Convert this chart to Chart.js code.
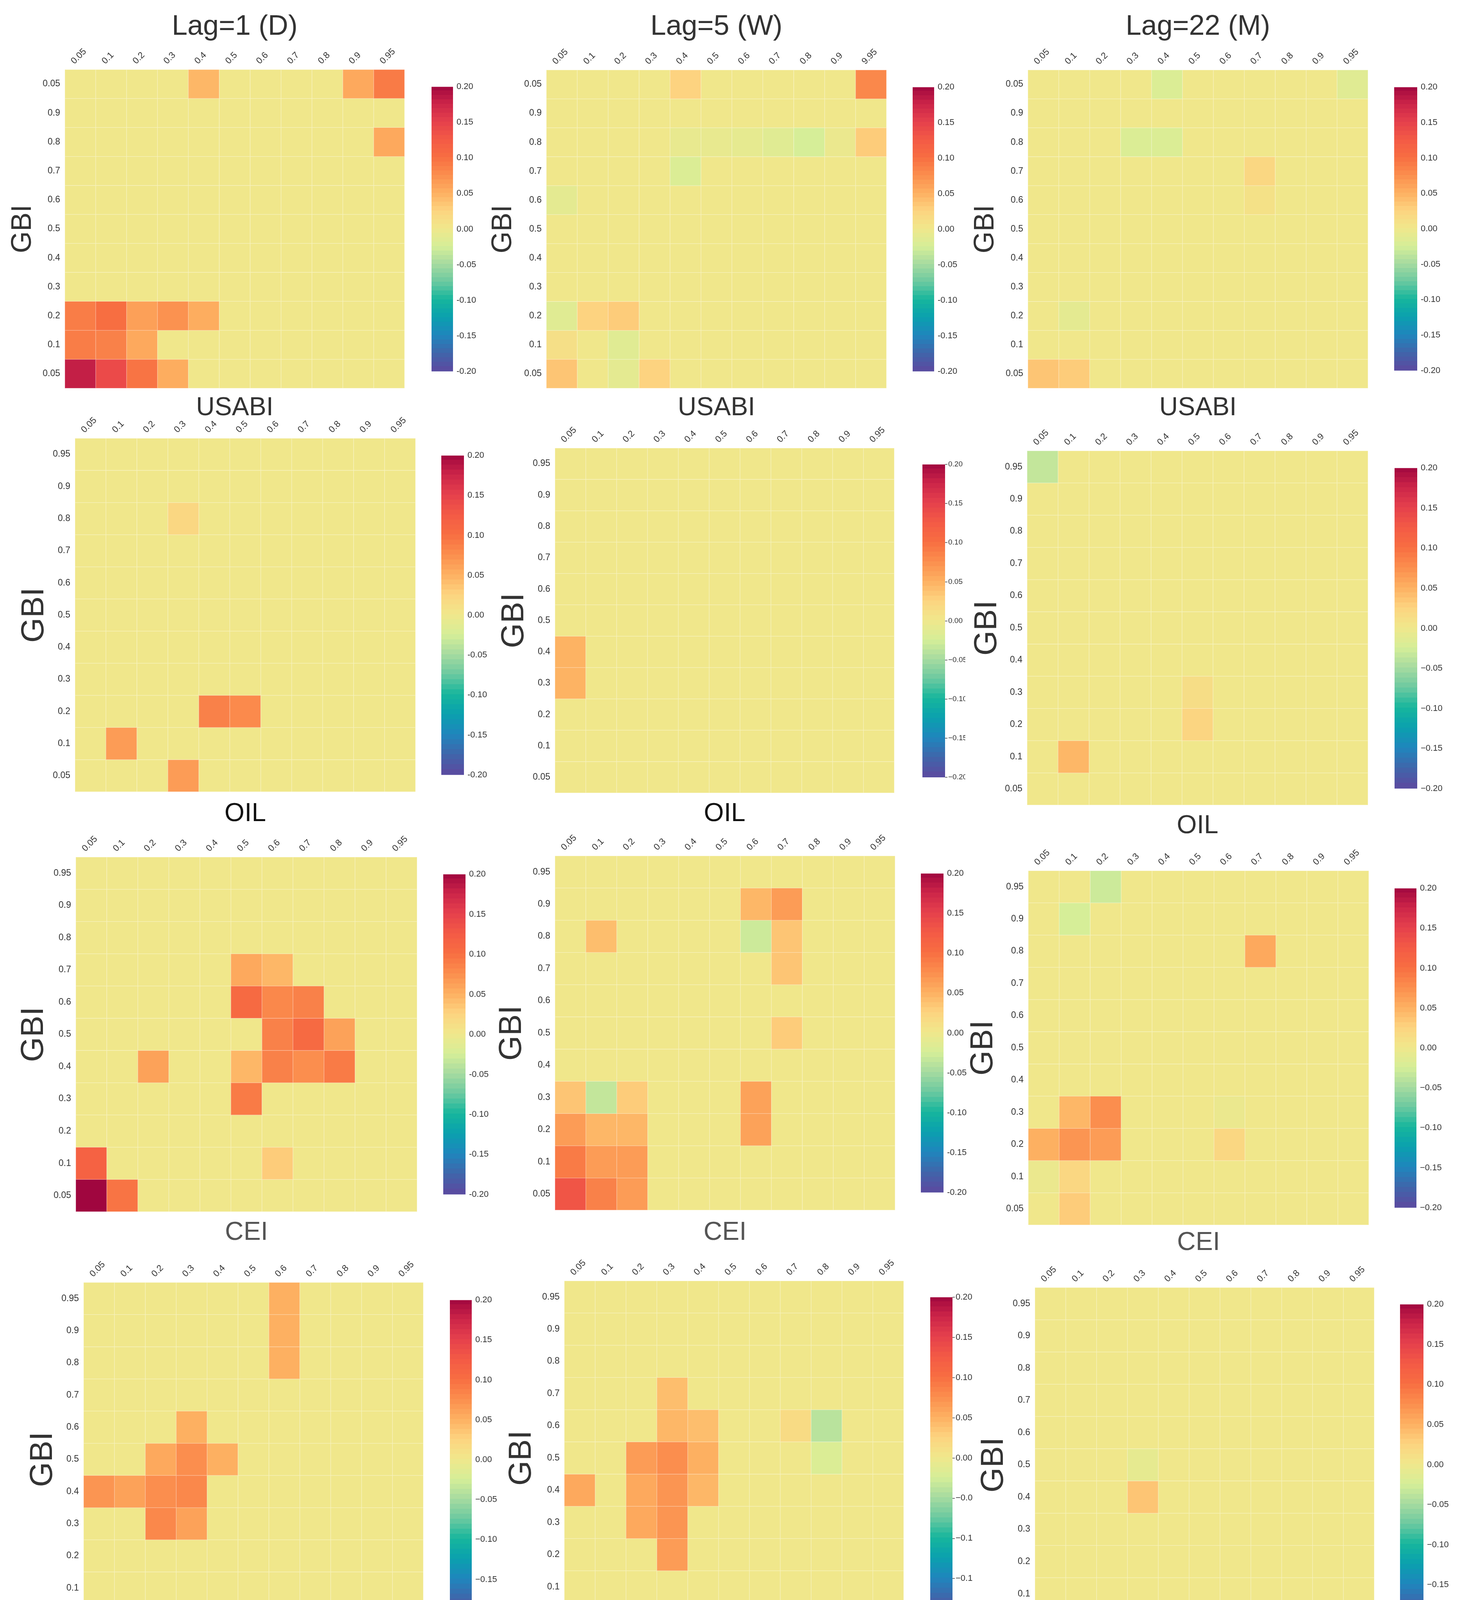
<!DOCTYPE html>
<html><head><meta charset="utf-8">
<script src="https://cdn.jsdelivr.net/npm/chart.js@4.4.1/dist/chart.umd.min.js"></script>
<style>
html,body{margin:0;padding:0;background:#fff;}
body{width:3736px;height:4311px;position:relative;overflow:hidden;}
canvas{position:absolute;}
.clip{position:absolute;overflow:hidden;}
</style></head><body>
<script>
// ---------- labels ----------
const quantLabels = ['0.05','0.1','0.2','0.3','0.4','0.5','0.6','0.7','0.8','0.9','0.95'];
const quantLabelsLag5 = ['0.05','0.1','0.2','0.3','0.4','0.5','0.6','0.7','0.8','0.9','9.95'];
const gbiLabelsTop = ['0.05','0.9','0.8','0.7','0.6','0.5','0.4','0.3','0.2','0.1','0.05'];
const gbiLabels = ['0.95','0.9','0.8','0.7','0.6','0.5','0.4','0.3','0.2','0.1','0.05'];
const lagTitles = ['Lag=1 (D)','Lag=5 (W)','Lag=22 (M)'];
const factorNames = ['USABI','OIL','CEI','SPI'];
const yAxisName = 'GBI';
const cbarTicks = [-0.2,-0.15,-0.1,-0.05,0,0.05,0.1,0.15,0.2];

// ---------- values (rows top -> bottom, columns left -> right) ----------
const lag1USABI = [
 [0,0,0,0,0.045,0,0,0,0,0.055,0.09],
 [0,0,0,0,0,0,0,0,0,0,0],
 [0,0,0,0,0,0,0,0,0,0,0.055],
 [0,0,0,0,0,0,0,0,0,0,0],
 [0,0,0,0,0,0,0,0,0,0,0],
 [0,0,0,0,0,0,0,0,0,0,0],
 [0,0,0,0,0,0,0,0,0,0,0],
 [0,0,0,0,0,0,0,0,0,0,0],
 [0.088,0.10,0.062,0.072,0.052,0,0,0,0,0,0],
 [0.088,0.085,0.055,0,0,0,0,0,0,0,0],
 [0.18,0.14,0.095,0.052,0,0,0,0,0,0,0]];
const lag5USABI = [
 [0,0,0,0,0.025,0,0,0,0,0,0.08],
 [0,0,0,0,0,0,0,0,0,0,0],
 [0,0,0,0,-0.008,-0.008,-0.01,-0.015,-0.025,-0.005,0.03],
 [0,0,0,0,-0.02,0,0,0,0,0,0],
 [-0.012,0,0,0,0,0,0,0,0,0,0],
 [0,0,0,0,0,0,0,0,0,0,0],
 [0,0,0,0,0,0,0,0,0,0,0],
 [0,0,0,0,0,0,0,0,0,0,0],
 [-0.015,0.025,0.03,0,0,0,0,0,0,0,0],
 [0.01,0,-0.015,0,0,0,0,0,0,0,0],
 [0.035,0,-0.012,0.025,0,0,0,0,0,0,0]];
const lag22USABI = [
 [0,0,0,0,-0.02,0,0,0,0,0,-0.015],
 [0,0,0,0,0,0,0,0,0,0,0],
 [0,0,0,-0.02,-0.02,0,0,0,0,0,0],
 [0,0,0,0,0,0,0,0.02,0,0,0],
 [0,0,0,0,0,0,0,0.008,0,0,0],
 [0,0,0,0,0,0,0,0,0,0,0],
 [0,0,0,0,0,0,0,0,0,0,0],
 [0,0,0,0,0,0,0,0,0,0,0],
 [0,-0.012,0,0,0,0,0,0,0,0,0],
 [0,0,0,0,0,0,0,0,0,0,0],
 [0.035,0.03,0,0,0,0,0,0,0,0,0]];
const lag1OIL = [
 [0,0,0,0,0,0,0,0,0,0,0],
 [0,0,0,0,0,0,0,0,0,0,0],
 [0,0,0,0.02,0,0,0,0,0,0,0],
 [0,0,0,0,0,0,0,0,0,0,0],
 [0,0,0,0,0,0,0,0,0,0,0],
 [0,0,0,0,0,0,0,0,0,0,0],
 [0,0,0,0,0,0,0,0,0,0,0],
 [0,0,0,0,0,0,0,0,0,0,0],
 [0,0,0,0,0.085,0.078,0,0,0,0,0],
 [0,0.065,0,0,0,0,0,0,0,0,0],
 [0,0,0,0.065,0,0,0,0,0,0,0]];
const lag5OIL = [
 [0,0,0,0,0,0,0,0,0,0,0],
 [0,0,0,0,0,0,0,0,0,0,0],
 [0,0,0,0,0,0,0,0,0,0,0],
 [0,0,0,0,0,0,0,0,0,0,0],
 [0,0,0,0,0,0,0,0,0,0,0],
 [0,0,0,0,0,0,0,0,0,0,0],
 [0.048,0,0,0,0,0,0,0,0,0,0],
 [0.048,0,0,0,0,0,0,0,0,0,0],
 [0,0,0,0,0,0,0,0,0,0,0],
 [0,0,0,0,0,0,0,0,0,0,0],
 [0,0,0,0,0,0,0,0,0,0,0]];
const lag22OIL = [
 [-0.035,0,0,0,0,0,0,0,0,0,0],
 [0,0,0,0,0,0,0,0,0,0,0],
 [0,0,0,0,0,0,0,0,0,0,0],
 [0,0,0,0,0,0,0,0,0,0,0],
 [0,0,0,0,0,0,0,0,0,0,0],
 [0,0,0,0,0,0,0,0,0,0,0],
 [0,0,0,0,0,0,0,0,0,0,0],
 [0,0,0,0,0,0.012,0,0,0,0,0],
 [0,0,0,0,0,0.022,0,0,0,0,0],
 [0,0.045,0,0,0,0,0,0,0,0,0],
 [0,0,0,0,0,0,0,0,0,0,0]];
const lag1CEI = [
 [0,0,0,0,0,0,0,0,0,0,0],
 [0,0,0,0,0,0,0,0,0,0,0],
 [0,0,0,0,0,0,0,0,0,0,0],
 [0,0,0,0,0,0.055,0.045,0,0,0,0],
 [0,0,0,0,0,0.105,0.08,0.085,0,0,0],
 [0,0,0,0,0,0,0.085,0.105,0.06,0,0],
 [0,0,0.06,0,0,0.045,0.085,0.075,0.09,0,0],
 [0,0,0,0,0,0.09,0,0,0,0,0],
 [0,0,0,0,0,0,0,0,0,0,0],
 [0.115,0,0,0,0,0,0.03,0,0,0,0],
 [0.2,0.095,0,0,0,0,0,0,0,0,0]];
const lag5CEI = [
 [0,0,0,0,0,0,0,0,0,0,0],
 [0,0,0,0,0,0,0.045,0.065,0,0,0],
 [0,0.04,0,0,0,0,-0.03,0.035,0,0,0],
 [0,0,0,0,0,0,0,0.035,0,0,0],
 [0,0,0,0,0,0,0,0,0,0,0],
 [0,0,0,0,0,0,0,0.03,0,0,0],
 [0,0,0,0,0,0,0,0,0,0,0],
 [0.035,-0.035,0.03,0,0,0,0.06,0,0,0,0],
 [0.065,0.045,0.045,0,0,0,0.06,0,0,0,0],
 [0.09,0.065,0.065,0,0,0,0,0,0,0,0],
 [0.13,0.085,0.065,0,0,0,0,0,0,0,0]];
const lag22CEI = [
 [0,0,-0.03,0,0,0,0,0,0,0,0],
 [0,-0.025,0,0,0,0,0,0,0,0,0],
 [0,0,0,0,0,0,0,0.055,0,0,0],
 [0,0,0,0,0,0,0,0,0,0,0],
 [0,0,0,0,0,0,0,0,0,0,0],
 [0,0,0,0,0,0,0,0,0,0,0],
 [0,0,0,0,0,0,0,0,0,0,0],
 [0,0.045,0.075,0,0,0,-0.005,0,0,0,0],
 [0.05,0.07,0.065,0,0,0,0.02,0,0,0,0],
 [-0.005,0.02,0,0,0,0,0,0,0,0,0],
 [0,0.03,0,0,0,0,0,0,0,0,0]];
const lag1SPI = [
 [0,0,0,0,0,0,0.05,0,0,0,0],
 [0,0,0,0,0,0,0.05,0,0,0,0],
 [0,0,0,0,0,0,0.05,0,0,0,0],
 [0,0,0,0,0,0,0,0,0,0,0],
 [0,0,0,0.05,0,0,0,0,0,0,0],
 [0,0,0.055,0.075,0.05,0,0,0,0,0,0],
 [0.07,0.06,0.075,0.08,0,0,0,0,0,0,0],
 [0,0,0.08,0.06,0,0,0,0,0,0,0],
 [0,0,0,0,0,0,0,0,0,0,0],
 [0,0,0,0,0,0,0,0,0,0,0],
 [0,0,0,0.045,0,0,0,0,0,0,0]];
const lag5SPI = [
 [0,0,0,0,0,0,0,0,0,0,0],
 [0,0,0,0,0,0,0,0,0,0,0],
 [0,0,0,0,0,0,0,0,0,0,0],
 [0,0,0,0.04,0,0,0,0,0,0,0],
 [0,0,0,0.045,0.04,0,0,0.015,-0.04,0,0],
 [0,0,0.065,0.075,0.05,0,0,0,-0.02,0,0],
 [0.055,0,0.055,0.07,0.045,0,0,0,0,0,0],
 [0,0,0.055,0.07,0,0,0,0,0,0,0],
 [0,0,0,0.065,0,0,0,0,0,0,0],
 [0,0,0,0,0,0,0,0,0,0,0],
 [0,0,0,0,0,0,0,0,0,0,0]];
const lag22SPI = [
 [0,0,0,0,0,0,0,0,0,0,0],
 [0,0,0,0,0,0,0,0,0,0,0],
 [0,0,0,0,0,0,0,0,0,0,0],
 [0,0,0,0,0,0,0,0,0,0,0],
 [0,0,0,0,0,0,0,0,0,0,0],
 [0,0,0,-0.01,0,0,0,0,0,0,0],
 [0,0,0,0.035,0,0,0,0,0,0,0],
 [0,0,0,0,0,0,0,0,0,0,0],
 [0,0,0,0,0,0,0,0,0,0,0],
 [0,0,0,0,0,0,0,0,0,0,0],
 [0,0,0,0,0,0,0,0,0,0,0]];

// ---------- colour map (Spectral_r, -0.2 .. 0.2) ----------
const cmapStops = [
 [-0.20,'#5b4a9f'],[-0.175,'#3f66ab'],[-0.15,'#1f86bd'],[-0.125,'#0aa0ae'],
 [-0.10,'#16b69d'],[-0.075,'#6cc9a0'],[-0.05,'#a6dba0'],[-0.025,'#d6ee98'],
 [0.00,'#f0e78b'],[0.025,'#fdd380'],[0.05,'#fdb061'],[0.075,'#fb8e4e'],
 [0.10,'#f76e41'],[0.125,'#f35a45'],[0.15,'#e5404c'],[0.175,'#cc2548'],[0.20,'#a0063f']];
function hex2rgb(h){return [parseInt(h.slice(1,3),16),parseInt(h.slice(3,5),16),parseInt(h.slice(5,7),16)];}
function cmapRGB(v){
  v=Math.max(-0.2,Math.min(0.2,v));
  for(let i=0;i<cmapStops.length-1;i++){
    const [a,ca]=cmapStops[i],[b,cb]=cmapStops[i+1];
    if(v<=b+1e-12){const t=(v-a)/(b-a);const A=hex2rgb(ca),B=hex2rgb(cb);
      return A.map((x,k)=>Math.round(x+(B[k]-x)*t));}
  }
  return hex2rgb(cmapStops[cmapStops.length-1][1]);
}
function cmap(v){const c=cmapRGB(v);return `rgb(${c[0]},${c[1]},${c[2]})`;}
function cmapLine(v){const c=cmapRGB(v).map(x=>Math.round(x+(255-x)*0.45));return `rgb(${c[0]},${c[1]},${c[2]})`;}

// ---------- layout ----------
const FF = "'Liberation Sans', Arial, sans-serif";
const panels = [
 {m:lag1USABI, xl:quantLabels, yl:gbiLabelsTop, title:lagTitles[0], factor:factorNames[0], heat:[166,178,1036,994], cbar:[1105,220,1160,953], gbiX:59, titleY:69, factorY:1044, gbiSize:72, fc:'#333', minus:'-'},
 {m:lag5USABI, xl:quantLabelsLag5, yl:gbiLabelsTop, title:lagTitles[1], factor:factorNames[0], heat:[1399,179,2270,994], cbar:[2337,221,2392,953], gbiX:1289, titleY:69, factorY:1044, gbiSize:72, fc:'#333', minus:'-'},
 {m:lag22USABI, xl:quantLabels, yl:gbiLabelsTop, title:lagTitles[2], factor:factorNames[0], heat:[2632,179,3503,994], cbar:[3570,221,3629,951], gbiX:2524, titleY:69, factorY:1044, gbiSize:72, fc:'#333', minus:'-'},
 {m:lag1OIL, xl:quantLabels, yl:gbiLabels, factor:factorNames[1], heat:[192,1122,1064,2027], cbar:[1130,1164,1188,1986], gbiX:88, factorY:2083, gbiSize:82, fc:'#111', minus:'-'},
 {m:lag5OIL, xl:quantLabels, yl:gbiLabels, factor:factorNames[1], heat:[1421,1147,2290,2030], cbar:[2362,1189,2420,1990], gbiX:1317, factorY:2083, gbiSize:82, fc:'#111', minus:'\u2212', clip:2472, ticks:true, cbSize:19},
 {m:lag22OIL, xl:quantLabels, yl:gbiLabels, factor:factorNames[1], heat:[2630,1154,3503,2061], cbar:[3571,1196,3629,2021], gbiX:2528, factorY:2114, gbiSize:82, fc:'#333', minus:'\u2212'},
 {m:lag1CEI, xl:quantLabels, yl:gbiLabels, factor:factorNames[2], heat:[194,2194,1068,3102], cbar:[1135,2236,1192,3060], gbiX:87, factorY:3155, gbiSize:82, fc:'#555', minus:'-'},
 {m:lag5CEI, xl:quantLabels, yl:gbiLabels, factor:factorNames[2], heat:[1421,2191,2292,3098], cbar:[2358,2234,2416,3055], gbiX:1311, factorY:3155, gbiSize:82, fc:'#555', minus:'-'},
 {m:lag22CEI, xl:quantLabels, yl:gbiLabels, factor:factorNames[2], heat:[2633,2229,3505,3136], cbar:[3571,2272,3627,3094], gbiX:2518, factorY:3181, gbiSize:82, fc:'#555', minus:'\u2212'},
 {m:lag1SPI, xl:quantLabels, yl:gbiLabels, factor:factorNames[3], heat:[214,3283,1084,4189], cbar:[1152,3326,1208,4148], gbiX:110, factorY:4243, gbiSize:82, fc:'#111', minus:'\u2212'},
 {m:lag5SPI, xl:quantLabels, yl:gbiLabels, factor:factorNames[3], heat:[1445,3279,2314,4186], cbar:[2382,3321,2439,4144], gbiX:1336, factorY:4239, gbiSize:82, fc:'#111', minus:'\u2212', clip:2490, ticks:true},
 {m:lag22SPI, xl:quantLabels, yl:gbiLabels, factor:factorNames[3], heat:[2650,3296,3519,4204], cbar:[3585,3337,3645,4162], gbiX:2545, factorY:4256, gbiSize:82, fc:'#111', minus:'\u2212'}
];

function addCanvas(left, top, w, h, parent){
  const c=document.createElement('canvas');
  c.width=w; c.height=h;
  c.style.left=left+'px'; c.style.top=top+'px';
  c.style.width=w+'px'; c.style.height=h+'px';
  (parent||document.body).appendChild(c);
  return c;
}

const factorSize = 66, tickSize = 23, titleSize = 72, cbTickSize = 22;

function heatChart(p){
  const [L,T,R,B]=p.heat;
  const f=p.gbiSize;
  const cl=p.gbiX-60;
  const ct=p.title ? p.titleY-60 : T-120;
  const yW=L-cl, topH=T-ct;
  const botH=Math.round(p.factorY+4+0.6*factorSize-B);
  const rightPad=80;
  const W=yW+(R-L)+rightPad, H=topH+(B-T)+botH;
  const canvas=addCanvas(cl,ct,W,H);
  const datasets=p.m.map((row,r)=>({
    data:row.map(()=>[r-0.5,r+0.5]),
    backgroundColor:row.map(v=>cmap(v)),
    borderColor:row.map(v=>cmapLine(v)),
    borderWidth:1, borderSkipped:false, grouped:false,
    barPercentage:1, categoryPercentage:1
  }));
  new Chart(canvas,{
    type:'bar',
    data:{labels:p.xl, datasets},
    options:{
      responsive:false, animation:false, devicePixelRatio:1, events:[],
      layout:{padding:{left:0,top:0,right:rightPad,bottom:0}},
      plugins:{legend:{display:false},tooltip:{enabled:false},title:{display:false}},
      scales:{
        x:{type:'category', position:'top', offset:true,
          grid:{display:false, drawTicks:false}, border:{display:false},
          ticks:{autoSkip:false, minRotation:45, maxRotation:45, padding:8, color:'#333', font:{size:tickSize, family:FF}},
          title:p.title?{display:true, text:p.title, color:'#333', font:{size:titleSize, family:FF}, padding:{top:60-0.6*titleSize, bottom:0}}:{display:false},
          afterFit:s=>{s.height=topH;}
        },
        x2:{type:'category', position:'bottom', labels:p.xl, offset:true,
          grid:{display:false, drawTicks:false}, border:{display:false}, ticks:{display:false},
          title:{display:true, text:p.factor, color:p.fc, font:{size:factorSize, family:FF}, padding:{top:0, bottom:4}},
          afterFit:s=>{s.height=botH;}
        },
        y:{type:'linear', position:'left', reverse:true, min:-0.5, max:10.5,
          grid:{display:false, drawTicks:false}, border:{display:false},
          afterBuildTicks:s=>{s.ticks=p.yl.map((_,i)=>({value:i}));},
          ticks:{callback:v=>p.yl[v], padding:12, color:'#333', font:{size:tickSize, family:FF}},
          title:{display:true, text:yAxisName, color:'#333', font:{size:f, family:FF}, padding:{top:60-0.6*f, bottom:0}},
          afterFit:s=>{s.width=yW;}
        }
      }
    }
  });
}

const cbarSegments = 64;
function colorbar(p){
  const [L,T,R,B]=p.cbar;
  const labW=90, pad=20;
  const W=(R-L)+labW, H=(B-T)+2*pad;
  let parent=document.body, left=L, top=T-pad;
  if(p.clip){
    const d=document.createElement('div');
    d.className='clip';
    d.style.left=L+'px'; d.style.top=(T-pad)+'px';
    d.style.width=(p.clip-L)+'px'; d.style.height=H+'px';
    document.body.appendChild(d);
    parent=d; left=0; top=0;
  }
  const canvas=addCanvas(left,top,W,H,parent);
  const step=0.4/cbarSegments;
  const datasets=[];
  for(let i=0;i<cbarSegments;i++){
    const lo=-0.2+i*step, hi=lo+step;
    datasets.push({data:[[lo, i===cbarSegments-1?hi:hi+step*0.15]], backgroundColor:cmap(lo+step/2),
      borderWidth:0, grouped:false, barPercentage:1, categoryPercentage:1});
  }
  const grid = p.ticks ? {display:true, drawOnChartArea:false, drawTicks:true, tickLength:6, color:'#444', lineWidth:1.5}
                       : {display:false, drawTicks:false};
  new Chart(canvas,{
    type:'bar',
    data:{labels:[''], datasets},
    options:{
      responsive:false, animation:false, devicePixelRatio:1, events:[],
      layout:{padding:{left:0,top:pad,right:0,bottom:pad}},
      plugins:{legend:{display:false},tooltip:{enabled:false}},
      scales:{
        x:{display:false, offset:true},
        y:{type:'linear', position:'right', min:-0.2, max:0.2,
          grid, border:{display:false},
          afterBuildTicks:s=>{s.ticks=cbarTicks.map(v=>({value:v}));},
          ticks:{padding:p.ticks?2:9, color:'#333', font:{size:p.cbSize||cbTickSize, family:FF},
            callback:v=>(v<-1e-9?p.minus:'')+Math.abs(v).toFixed(2)},
          afterFit:s=>{s.width=labW;}
        }
      }
    }
  });
}

panels.forEach(p=>{heatChart(p); colorbar(p);});
</script>
</body></html>
